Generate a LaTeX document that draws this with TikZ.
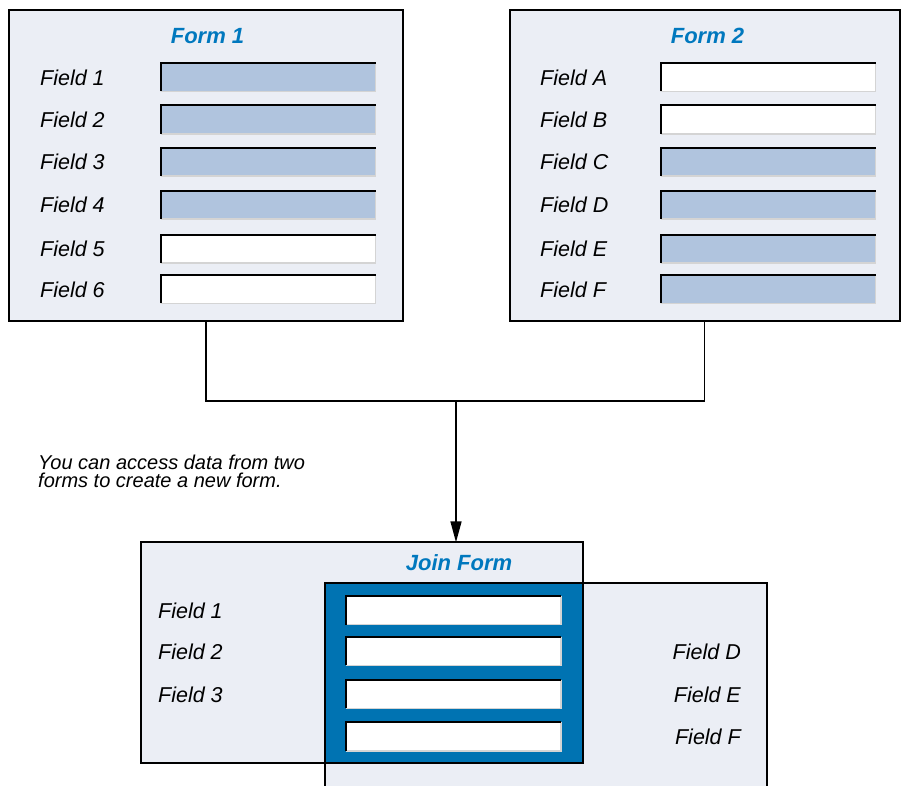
\documentclass[tikz,border=0pt]{standalone}
\usepackage{fontspec}
\setmainfont{Liberation Sans}
\usetikzlibrary{arrows.meta}

\definecolor{formbg}{RGB}{235,238,245}
\definecolor{fieldblue}{RGB}{176,196,222}
\definecolor{joinblue}{RGB}{0,115,178}
\definecolor{titleblue}{RGB}{0,120,190}
\definecolor{edgegray}{RGB}{212,212,212}

\tikzset{
  formframe/.style={draw=black, line width=2pt},
  formbox/.style={fill=formbg, inner sep=0pt, outer sep=0pt},
  entry/.style={inner sep=0pt, outer sep=0pt, minimum width=214.5pt, minimum height=28.5pt},
  entrylight/.style={draw=edgegray, line width=1.6pt},
  entrydark/.style={draw=black, line width=2pt},
  title/.style={text=titleblue, font=\fontsize{22}{26}\selectfont\bfseries\itshape, inner sep=0pt, anchor=base},
  label/.style={font=\fontsize{21.5}{26}\selectfont\itshape, inner sep=0pt, anchor=base west},
  rlabel/.style={font=\fontsize{21.5}{26}\selectfont\itshape, inner sep=0pt, anchor=base east},
  wire/.style={line width=1.5pt, draw=black},
}

% an entry field: filled box, light lower-right edges, dark upper-left edges
\newcommand{\entrybox}[4]{%
  \node[entry, fill=#4] (#1) at (#2,#3) {};
  \draw[entrylight] (#1.north east) |- (#1.south west);
  \draw[entrydark] (#1.south west) |- (#1.north east);
}

\begin{document}
\begin{tikzpicture}[x=1pt,y=-1pt]
\useasboundingbox (0,0) rectangle (901,786);
\clip (0,0) rectangle (901,786);

% ---- Form 1 ----
\node[formbox, formframe, minimum width=394pt, minimum height=311pt] (f1) at (206,165.5) {};
\node[title] (f1t) at (207.5,44) {Form 1};
\foreach \i/\y/\c in {1/77.2/fieldblue, 2/119.5/fieldblue, 3/161.8/fieldblue,
                      4/204.8/fieldblue, 5/248.8/white, 6/289.2/white}{
  \entrybox{f1e\i}{268.25}{\y}{\c}
  \node[label] (f1l\i) at (40,\y+8) {Field \i};
}

% ---- Form 2 ----
\node[formbox, formframe, minimum width=390pt, minimum height=311pt] (f2) at (704.5,165.5) {};
\node[title] (f2t) at (707.5,44) {Form 2};
\foreach \n/\y/\c in {A/77.2/white, B/119.5/white, C/161.8/fieldblue,
                      D/204.8/fieldblue, E/248.8/fieldblue, F/289.2/fieldblue}{
  \entrybox{f2e\n}{768.25}{\y}{\c}
  \node[label] (f2l\n) at (540,\y+8) {Field \n};
}

% ---- connectors ----
\coordinate (mid) at (456,401);
\draw[wire] (f1.south) |- (mid) -| (f2.south);

% ---- Join form ----
\node[formbox, minimum width=441.7pt, minimum height=220.4pt] (jl) at (361.85,652.5) {};
\node[formbox, minimum width=441.7pt, minimum height=220.4pt] (jr) at (545.85,693.5) {};
\fill[joinblue] (jr.north west) rectangle (jl.south east);
\draw[formframe] (jl.north west) rectangle (jl.south east);
\draw[formframe] (jr.north west) rectangle (jr.south east);

\draw[wire, -{Triangle[length=21pt, width=11pt]}] (mid) -- (mid |- jl.north);

\node[title] (jt) at (459,570) {Join Form};
\foreach \i/\y in {1/610.3, 2/651.2, 3/694.2, 4/736.7}{
  \entrybox{je\i}{453.5}{\y}{white}
}
\node[label] (jl1) at (158,618.3) {Field 1};
\node[label] (jl2) at (158,659.2) {Field 2};
\node[label] (jl3) at (158,702.2) {Field 3};
\node[rlabel] (jrD) at (741,659.2) {Field D};
\node[rlabel] (jrE) at (741,702.2) {Field E};
\node[rlabel] (jrF) at (741,744.7) {Field F};

% ---- caption (anchored on the baseline of its last line) ----
\node[font=\fontsize{20}{18}\selectfont\itshape, align=left, inner sep=0pt, anchor=base west] (cap)
  at (38,487) {You can access data from two\\forms to create a new form.};
\end{tikzpicture}
\end{document}
